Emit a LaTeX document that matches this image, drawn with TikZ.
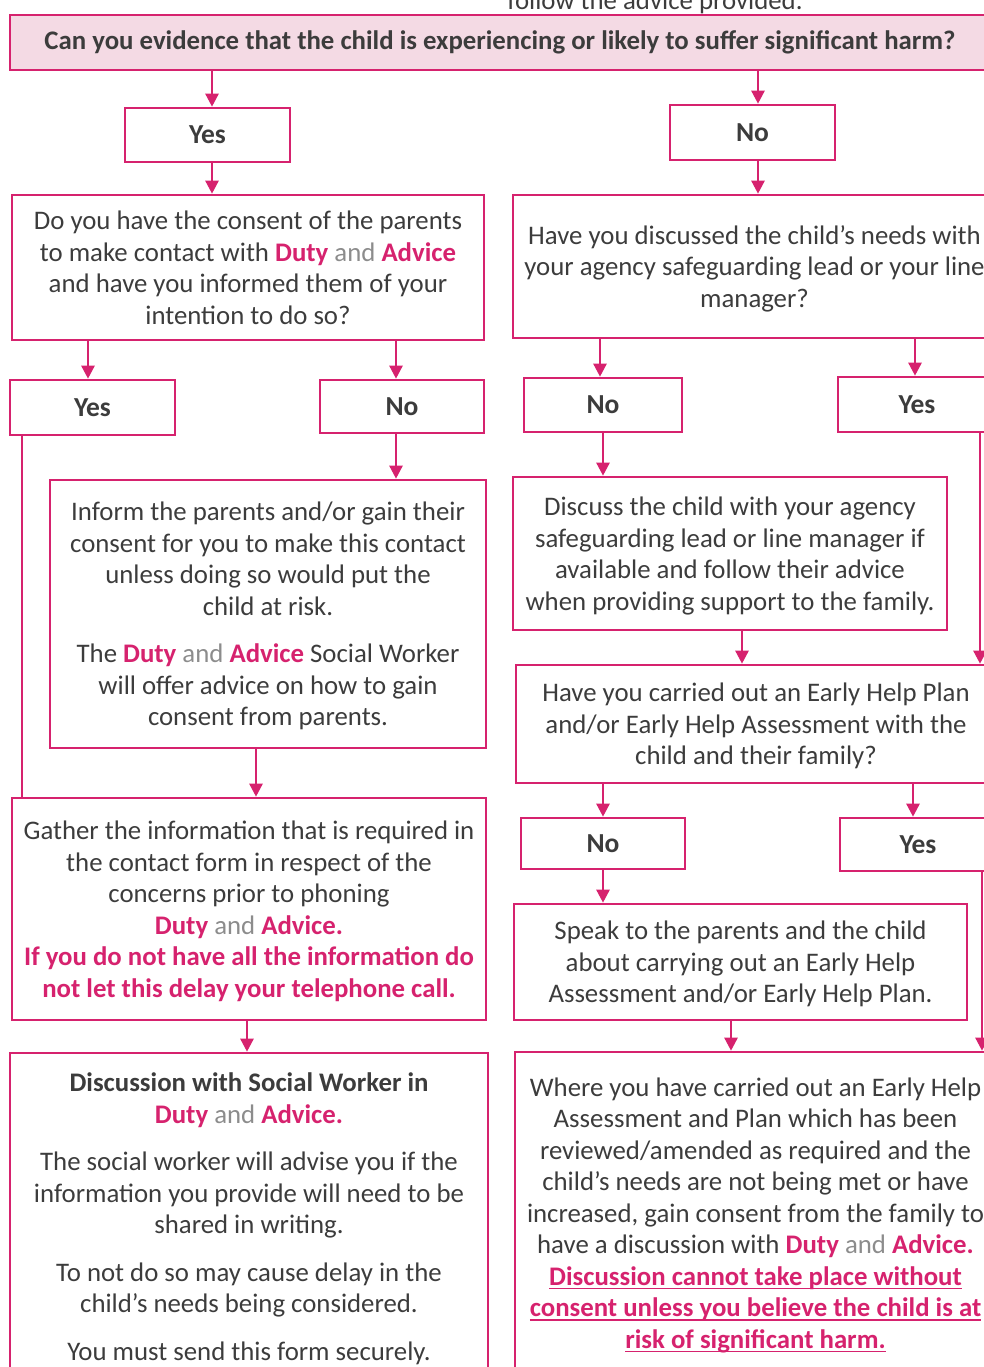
\documentclass[tikz,border=0pt]{standalone}
\usepackage{fontspec}
\setmainfont{Carlito}
\usetikzlibrary{arrows.meta}

\definecolor{flowpink}{HTML}{D6226E}
\definecolor{headfill}{HTML}{F4DAE4}
\definecolor{bodytext}{HTML}{3C3C3C}
\definecolor{andgray}{HTML}{8C8C8C}

\newcommand{\pinkbf}[1]{\textcolor{flowpink}{\bfseries #1}}
\newcommand{\DandA}{\pinkbf{Duty} \textcolor{andgray}{and} \pinkbf{Advice}}
\newcommand{\bodyfont}{\fontsize{26.8}{31.5}\selectfont}
% bold pink text with a pink rule under it
\newsavebox{\ulstore}
\newcommand{\pinkul}[1]{\sbox{\ulstore}{\pinkbf{#1}}%
  \rlap{\textcolor{flowpink}{\rule[-4pt]{\wd\ulstore}{1.6pt}}}\usebox{\ulstore}}

\tikzset{
  frame/.style={draw=flowpink, line width=2.6pt, text=bodytext, inner sep=0pt},
  box/.style={frame, align=center, font=\bodyfont, text depth=0pt},
  answer/.style={frame, font=\fontsize{27.5}{32}\selectfont\bfseries},
  arr/.style={draw=flowpink, line width=2.5pt, -{Triangle[width=13pt,length=13pt]}},
  rail/.style={draw=flowpink, line width=2.5pt}
}

\begin{document}
\begin{tikzpicture}[x=1pt,y=-1pt]
\useasboundingbox (0,0) rectangle (984,1367);
\clip (0,0) rectangle (984,1367);

% tail of the previous line of the page
\node[text=bodytext, font=\bodyfont, anchor=base, inner sep=0pt] (prevline) at (655,10) {follow the advice provided.};

% main question
\node[frame, fill=headfill, minimum width=980, minimum height=55,
      font=\fontsize{26.8}{30}\selectfont\bfseries] (harm) at (500,42.5)
  {Can you evidence that the child is experiencing or likely to suffer significant harm?};

\node[answer, minimum width=165, minimum height=54] (harmYes) at (207.5,135) {Yes};
\node[answer, minimum width=165, minimum height=55] (harmNo) at (752.5,132.5) {No};

% left branch
\node[box, minimum width=472, minimum height=145] (consent) at (248,267.5)
  {Do you have the consent of the parents\\
   to make contact with \DandA\\
   and have you informed them of your\\
   intention to do so?};

\node[answer, minimum width=165, minimum height=55] (consentYes) at (92.5,407.5) {Yes};
\node[answer, minimum width=164, minimum height=53] (consentNo) at (402,406.5) {No};

\node[box, minimum width=436, minimum height=268] (inform) at (268,614)
  {Inform the parents and/or gain their\\
   consent for you to make this contact\\
   unless doing so would put the\\
   child at risk.\\[16pt]
   The \DandA{} Social Worker\\
   will offer advice on how to gain\\
   consent from parents.};

\node[box, minimum width=474, minimum height=222] (gather) at (249,909)
  {Gather the information that is required in\\
   the contact form in respect of the\\
   concerns prior to phoning\\
   \DandA\pinkbf{.}\\
   \pinkbf{If you do not have all the information do}\\
   \pinkbf{not let this delay your telephone call.}};

\node[box, minimum width=478, minimum height=327] (socialworker) at (249,1216.5)
  {\textbf{Discussion with Social Worker in}\\
   \DandA\pinkbf{.}\\[16pt]
   The social worker will advise you if the\\
   information you provide will need to be\\
   shared in writing.\\[16pt]
   To not do so may cause delay in the\\
   child’s needs being considered.\\[16pt]
   You must send this form securely.};

% right branch
\node[box, minimum width=483, minimum height=143] (discussed) at (754.5,266.5)
  {Have you discussed the child’s needs with\\
   your agency safeguarding lead or your line\\
   manager?};

\node[answer, minimum width=158, minimum height=54] (discussedNo) at (603,405) {No};
\node[answer, minimum width=158, minimum height=55] (discussedYes) at (917,404.5) {Yes};

\node[box, minimum width=434, minimum height=153] (discuss) at (730,553.5)
  {Discuss the child with your agency\\
   safeguarding lead or line manager if\\
   available and follow their advice\\
   when providing support to the family.};

\node[box, minimum width=480, minimum height=118] (earlyhelp) at (756,724)
  {Have you carried out an Early Help Plan\\
   and/or Early Help Assessment with the\\
   child and their family?};

\node[answer, minimum width=164, minimum height=51] (ehNo) at (603,843.5) {No};
\node[answer, minimum width=156, minimum height=53] (ehYes) at (918,844.5) {Yes};

\node[box, minimum width=453, minimum height=116] (speak) at (740.5,962)
  {Speak to the parents and the child\\
   about carrying out an Early Help\\
   Assessment and/or Early Help Plan.};

\node[box, minimum width=481, minimum height=322] (whereEH) at (755.5,1213)
  {Where you have carried out an Early Help\\
   Assessment and Plan which has been\\
   reviewed/amended as required and the\\
   child’s needs are not being met or have\\
   increased, gain consent from the family to\\
   have a discussion with \DandA\pinkbf{.}\\
   \pinkul{Discussion cannot take place without}\\
   \pinkul{consent unless you believe the child is at}\\
   \pinkul{risk of significant harm.}};

% columns along which the connectors run
\coordinate (colA) at (212,0);
\coordinate (colB) at (758,0);
\coordinate (colC) at (88,0);
\coordinate (colD) at (396,0);
\coordinate (colE) at (600,0);
\coordinate (colF) at (915,0);
\coordinate (colG) at (913,0);
\coordinate (informOut) at (256,0);
\coordinate (gatherOut) at (247,0);
\coordinate (discussOut) at (742,0);
\coordinate (speakOut) at (731,0);
\coordinate (railL) at (22,0);
\coordinate (railA) at (980,0);
\coordinate (railB) at (982,0);

% connectors
\draw[arr] (harm.south -| colA) -- (harmYes.north -| colA);
\draw[arr] (harm.south -| colB) -- (harmNo.north -| colB);
\draw[arr] (harmYes.south -| colA) -- (consent.north -| colA);
\draw[arr] (harmNo.south -| colB) -- (discussed.north -| colB);

\draw[arr] (consent.south -| colC) -- (consentYes.north -| colC);
\draw[arr] (consent.south -| colD) -- (consentNo.north -| colD);
\draw[arr] (consentNo.south -| colD) -- (inform.north -| colD);
\draw[rail] (consentYes.south -| railL) -- (gather.north -| railL);
\draw[arr] (inform.south -| informOut) -- (gather.north -| informOut);
\draw[arr] (gather.south -| gatherOut) -- (socialworker.north -| gatherOut);

\draw[arr] (discussed.south -| colE) -- (discussedNo.north -| colE);
\draw[arr] (discussed.south -| colF) -- (discussedYes.north -| colF);
\draw[arr] (discussedNo.south) -- (discussedNo.south |- discuss.north);
\draw[arr] (discuss.south -| discussOut) -- (earlyhelp.north -| discussOut);
\draw[arr] (discussedYes.south -| railA) -- (earlyhelp.north -| railA);

\draw[arr] (earlyhelp.south -| ehNo) -- (ehNo.north);
\draw[arr] (earlyhelp.south -| colG) -- (ehYes.north -| colG);
\draw[arr] (ehNo.south) -- (ehNo.south |- speak.north);
\draw[arr] (speak.south -| speakOut) -- (whereEH.north -| speakOut);
\draw[arr] (ehYes.south -| railB) -- (whereEH.north -| railB);
\end{tikzpicture}
\end{document}
